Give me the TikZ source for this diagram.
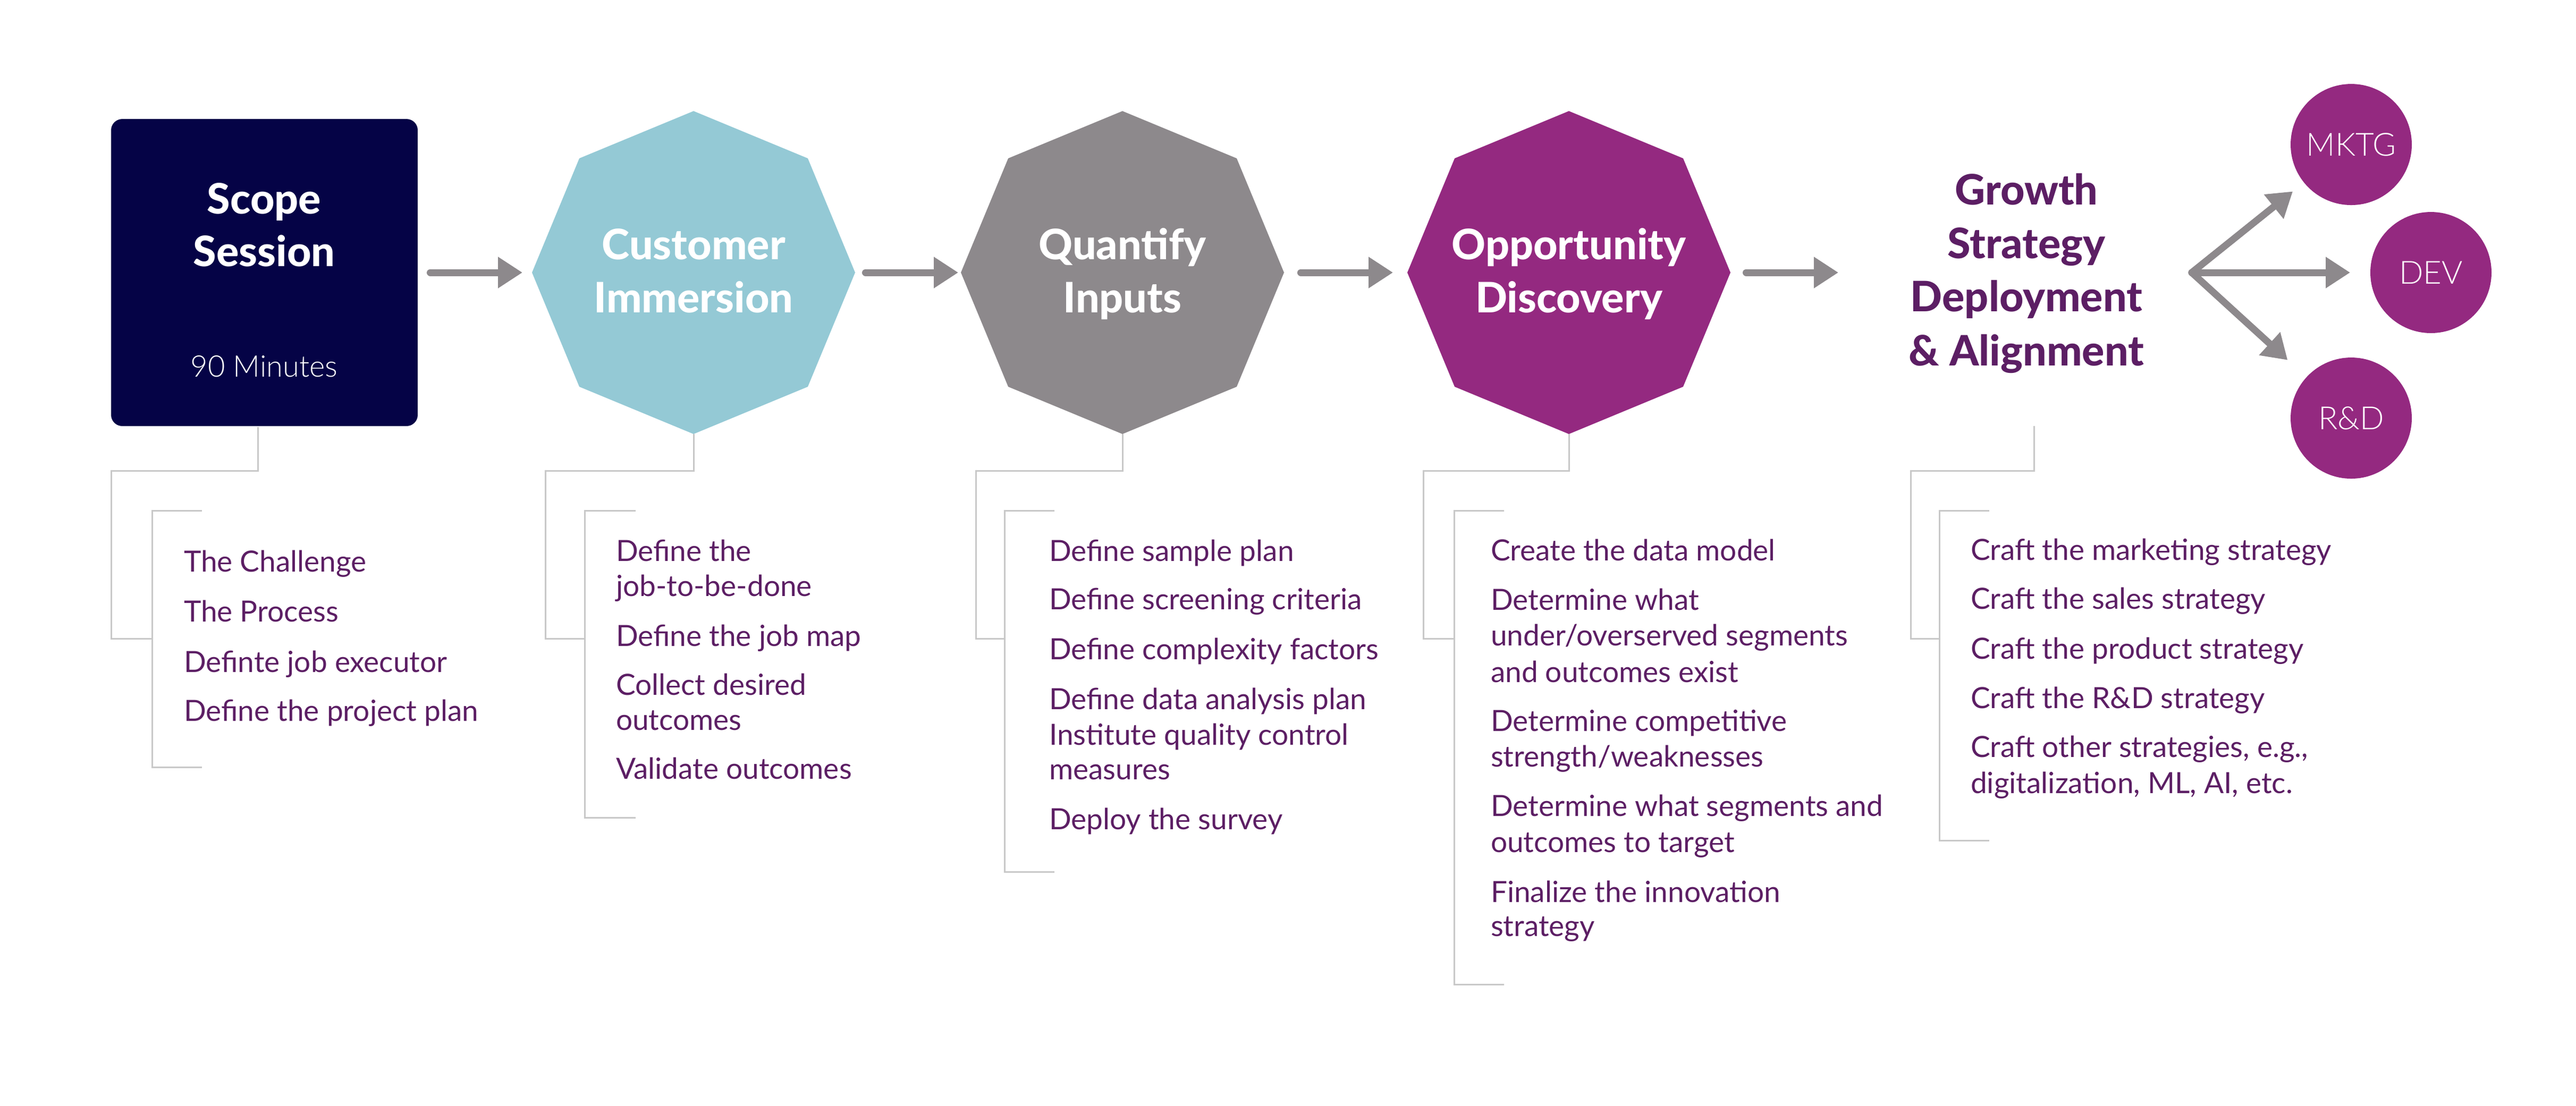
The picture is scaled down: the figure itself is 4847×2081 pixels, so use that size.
\documentclass[tikz,border=0pt]{standalone}
\usepackage{fontspec}
\setmainfont{Lato}
\IfFontExistsTF{Lato Light}{\newfontfamily\lightf{Lato Light}}{\newfontfamily\lightf{Lato}}
\IfFontExistsTF{Lato Heavy}{\newfontfamily\heavyf{Lato Heavy}}{\IfFontExistsTF{Lato Black}{\newfontfamily\heavyf{Lato Black}}{\newcommand\heavyf{\bfseries}}}
\usetikzlibrary{arrows.meta,shapes.geometric,calc}
\definecolor{navy}{RGB}{5,3,70}
\definecolor{lblue}{RGB}{148,201,213}
\definecolor{ogray}{RGB}{141,137,140}
\definecolor{opurple}{RGB}{148,41,128}
\definecolor{tpurple}{RGB}{92,30,100}
\definecolor{bgray}{RGB}{200,200,200}
\begin{document}
\begin{tikzpicture}[x=0.1pt,y=-0.1pt,
  oct/.style={regular polygon, regular polygon sides=8, shape border rotate=22.5, minimum size=60.8pt, inner sep=0pt, outer sep=0pt, draw=none},
  ttl/.style={anchor=base, inner sep=0pt, font=\heavyf\fontsize{7.9pt}{10pt}\selectfont, text=white},
  itm/.style={anchor=base west, inner sep=0pt, font=\fontsize{5.5pt}{6.7pt}\selectfont, text=tpurple},
  brk/.style={draw=bgray, line width=0.3pt},
  arr/.style={draw=ogray, line width=1.3pt, line cap=round, -{Triangle[length=4.6pt,width=5.6pt]}},
  circ/.style={circle, minimum size=22.8pt, inner sep=0pt, fill=opurple, text=white, font=\lightf\fontsize{6pt}{7pt}\selectfont}
]
\useasboundingbox (0,0) rectangle (4847,2081);

% main shapes
\node[fill=navy, rounded corners=2.1pt, minimum width=57.7pt, minimum height=57.8pt, inner sep=0pt] (scope) at (497.5,513) {};
\node[oct, fill=lblue] (cust) at (1305,513) {};
\node[oct, fill=ogray] (quant) at (2112,513) {};
\node[oct, fill=opurple] (opp) at (2952,513) {};

% titles
\node[ttl] (scope1) at (497,402) {Scope};
\node[ttl] (scope2) at (497,501) {Session};
\node[anchor=base, inner sep=0pt, text=white, font=\lightf\fontsize{5.6pt}{6pt}\selectfont] (scope3) at (497,709) {90 Minutes};
\node[ttl] (cust1) at (1305,488) {Customer};
\node[ttl] (cust2) at (1305,588) {Immersion};
\node[ttl] (quant1) at (2112,488) {Quantify};
\node[ttl] (quant2) at (2112,588) {Inputs};
\node[ttl] (opp1) at (2952,488) {Opportunity};
\node[ttl] (opp2) at (2952,588) {Discovery};
\node[ttl, text=tpurple] (grow1) at (3813,385) {Growth};
\node[ttl, text=tpurple] (grow2) at (3813,486) {Strategy};
\node[ttl, text=tpurple] (grow3) at (3813,586) {Deployment};
\node[ttl, text=tpurple] (grow4) at (3813,688) {\& Alignment};
\coordinate (gin) at (3459,513);
\coordinate (gtop) at (3827,802);

% arrows between stages
\draw[arr] ($(scope.east)+(21.5,0)$) -- ($(cust.west)+(-18,0)$);
\draw[arr] ($(cust.east)+(19.5,0)$) -- ($(quant.west)+(-5,0)$);
\draw[arr] ($(quant.east)+(31.5,0)$) -- ($(opp.west)+(-27,0)$);
\draw[arr] ($(opp.east)+(29.5,0)$) -- (gin);

% fan
\coordinate (fan) at (4124,513);
\node[circ] (mktg) at (4424,272) {MKTG};
\node[circ] (dev) at (4574,513) {DEV};
\node[circ] (rd) at (4424,787) {R\&D};
\draw[arr, shorten >=2.5pt] (fan) -- (mktg);
\draw[arr, shorten >=3.6pt] (fan) -- (dev);
\draw[arr, shorten >=4.6pt] (fan) -- (rd);

% brackets
\draw[brk] ($(scope.south)+(-12,0)$) |- (209,886) |- (286,1202);
\draw[brk] (380,961) -| (286,1444) -- (380,1444);
\draw[brk] (cust.south) |- (1026,886) |- (1100,1202);
\draw[brk] (1196,961) -| (1100,1539) -- (1196,1539);
\draw[brk] (quant.south) |- (1836,886) |- (1890,1202);
\draw[brk] (1984,961) -| (1890,1641) -- (1984,1641);
\draw[brk] (opp.south) |- (2678,886) |- (2736,1202);
\draw[brk] (2830,961) -| (2736,1853) -- (2830,1853);
\draw[brk] (gtop) |- (3595,886) |- (3649,1202);
\draw[brk] (3743,961) -| (3649,1582) -- (3743,1582);

% column 1
\node[itm] (a1) at (344,1076) {The Challenge};
\node[itm] (a2) at (344,1170) {The Process};
\node[itm] (a3) at (344,1265) {Definte job executor};
\node[itm] (a4) at (344,1357) {Define the project plan};
% column 2
\node[itm] (b1) at (1157,1056) {Define the};
\node[itm] (b2) at (1157,1122) {job-to-be-done};
\node[itm] (b3) at (1157,1216) {Define the job map};
\node[itm] (b4) at (1157,1308) {Collect desired};
\node[itm] (b5) at (1157,1374) {outcomes};
\node[itm] (b6) at (1157,1466) {Validate outcomes};
% column 3
\node[itm] (c1) at (1972,1056) {Define sample plan};
\node[itm] (c2) at (1972,1147) {Define screening criteria};
\node[itm] (c3) at (1972,1241) {Define complexity factors};
\node[itm] (c4) at (1972,1335) {Define data analysis plan};
\node[itm] (c5) at (1972,1402) {Institute quality control};
\node[itm] (c6) at (1972,1467) {measures};
\node[itm] (c7) at (1972,1561) {Deploy the survey};
% column 4
\node[itm] (d1) at (2803,1055) {Create the data model};
\node[itm] (d2) at (2803,1148) {Determine what};
\node[itm] (d3) at (2803,1215) {under/overserved segments};
\node[itm] (d4) at (2803,1284) {and outcomes exist};
\node[itm] (d5) at (2803,1376) {Determine competitive};
\node[itm] (d6) at (2803,1443) {strength/weaknesses};
\node[itm] (d7) at (2803,1536) {Determine what segments and};
\node[itm] (d8) at (2803,1604) {outcomes to target};
\node[itm] (d9) at (2803,1698) {Finalize the innovation};
\node[itm] (d10) at (2803,1762) {strategy};
% column 5
\node[itm] (e1) at (3706,1054) {Craft the marketing strategy};
\node[itm] (e2) at (3706,1146) {Craft the sales strategy};
\node[itm] (e3) at (3706,1240) {Craft the product strategy};
\node[itm] (e4) at (3706,1333) {Craft the R\&D strategy};
\node[itm] (e5) at (3706,1425) {Craft other strategies, e.g.,};
\node[itm] (e6) at (3706,1493) {digitalization, ML, AI, etc.};
\end{tikzpicture}
\end{document}
